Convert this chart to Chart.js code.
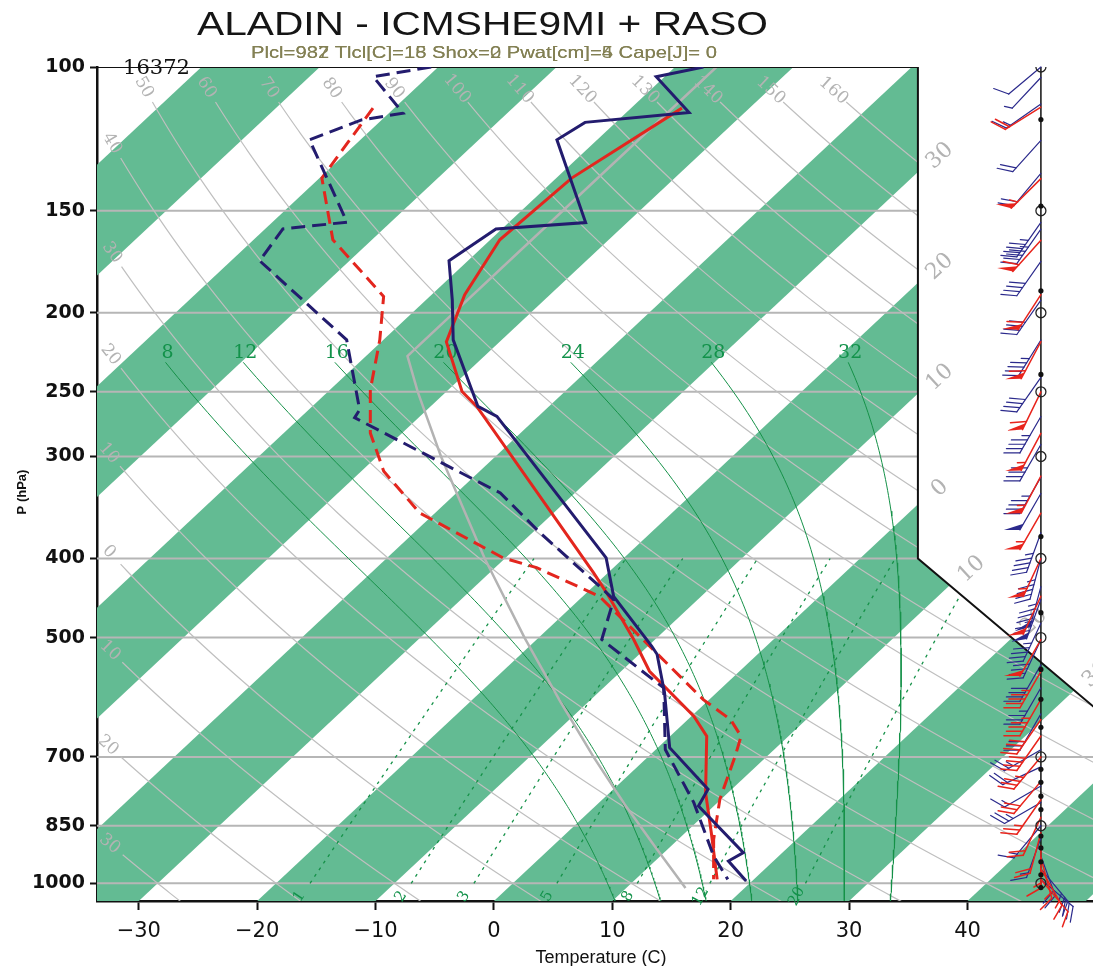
<!DOCTYPE html>
<html>
<head>
<meta charset="utf-8">
<script src="https://cdn.jsdelivr.net/npm/chart.js@4.4.0/dist/chart.umd.min.js"></script>
<style>
  html, body { margin: 0; padding: 0; background: #fff; overflow: hidden; }
  #wrap { width: 1093px; height: 966px; position: relative; }
</style>
</head>
<body>
<div id="wrap"><canvas id="skewt"></canvas></div>
<script>
// axis ticks
const pressureTicks = [100, 150, 200, 250, 300, 400, 500, 700, 850, 1000];
const tempTicks = [-30, -20, -10, 0, 10, 20, 30, 40];

// RASO (sounding) temperature / dewpoint
const rasoP = [100, 102.8, 113.7, 116.9, 122.8, 155.1, 157.9, 172.7, 192.8, 215.9, 260.5, 267.9, 399.3, 445, 512, 524, 584, 682, 767, 804, 917, 939, 993.5];
const rasoT = [-57.6, -60.7, -54.7, -62.6, -63.4, -53.5, -60.5, -61.6, -57.8, -54.1, -46.0, -43.5, -21.5, -17.4, -9.7, -8.5, -4.4, 1.0, 8.0, 8.7, 16.7, 16.2, 19.5];
const rasoTdP = [100, 102.8, 113.9, 116.1, 122.8, 154.9, 157.9, 172.7, 215.9, 262.9, 268.9, 318.5, 332.5, 372.3, 432.6, 449.1, 502.7, 576.2, 685.6, 796.3, 925.9, 988.8];
const rasoTd = [-80.6, -84.6, -78.8, -81.7, -84.3, -73.7, -78.5, -77.6, -63.1, -55.7, -55.4, -40.2, -36.3, -29.3, -19.5, -17.1, -14.5, -4.9, 0.8, 8.0, 14.5, 17.8];

// ALADIN (model) temperature / dewpoint
const aladinP = [112.3, 136.8, 162.8, 190.1, 217.1, 249.7, 260.5, 416.6, 440.7, 502.7, 549.8, 624.1, 660.4, 774.4, 867, 988.8];
const aladinT = [-55.7, -58.7, -59.2, -57.2, -54.5, -48.7, -46.1, -21.2, -18.3, -11.8, -7.6, 0.2, 3.1, 8.1, 12.2, 16.9];
const aladinTdP = [112.3, 136.8, 162.8, 191.0, 215.9, 248.5, 280.7, 312.8, 351.8, 399.3, 410.4, 445, 595.5, 630, 660.4, 698.6, 788.9, 883.5, 988.8];
const aladinTd = [-81.8, -79.8, -73.3, -63.9, -60.3, -56.6, -52.7, -48.1, -41.3, -30.2, -26.5, -18.6, -0.5, 3.6, 6.0, 7.3, 9.9, 13.0, 16.6];

// reference standard atmosphere
const stdP = [1013, 900, 800, 700, 600, 500, 400, 300, 250, 226, 150, 100];
const stdT = [15.0, 8.6, 2.3, -4.6, -12.3, -21.2, -31.7, -44.6, -52.4, -56.5, -56.5, -56.5];

// winds (direction deg, speed kt)
const rasoWindP = [100, 103, 111, 123, 135, 155, 158, 173, 193, 216, 240, 268, 290, 318, 333, 372, 400, 433, 449, 480, 503, 540, 576, 620, 686, 720, 760, 796, 850, 880, 926, 960, 989];
const rasoWindDir = [230, 223, 235, 222, 220, 215, 215, 215, 215, 212, 215, 210, 210, 210, 210, 200, 195, 195, 200, 205, 205, 210, 210, 210, 240, 245, 240, 240, 220, 200, 160, 140, 130];
const rasoWindSpd = [10, 5, 15, 20, 20, 45, 45, 40, 40, 45, 40, 45, 40, 45, 50, 45, 45, 85, 75, 45, 40, 40, 35, 30, 25, 20, 15, 25, 15, 15, 20, 25, 30];
const aladinWindP = [112, 137, 163, 190, 217, 250, 281, 317, 352, 400, 445, 503, 550, 595, 630, 660, 700, 750, 790, 830, 867, 900, 930, 960, 989];
const aladinWindDir = [238, 225, 222, 213, 208, 206, 208, 208, 210, 205, 205, 210, 210, 210, 215, 215, 220, 220, 215, 205, 195, 180, 165, 150, 140];
const aladinWindSpd = [20, 55, 60, 60, 60, 60, 55, 55, 55, 55, 50, 50, 45, 45, 40, 40, 35, 30, 25, 20, 20, 15, 15, 15, 10];

// markers on the wind column
const circleLevels = [100, 150, 200, 250, 300, 400, 500, 700, 850, 1000];
const dotLevels = [116, 148, 188, 238, 376, 466, 547, 595, 644, 725, 752, 782, 812, 875, 905, 941, 976, 1012];

// isopleth families
const bandStarts = [-120, -100, -80, -60, -40, -20, 0, 20, 40];
const dryThetas = [-30, -20, -10, 0, 10, 20, 30, 40, 50, 60, 70, 80, 90, 100, 110, 120, 130, 140, 150, 160];
const moistThetaW = [8, 12, 16, 20, 24, 28, 32];
const mixRatios = [1, 2, 3, 5, 8, 12, 20];
const isoLabelTemps = [-30, -20, -10, 0, 10, 20, 30];

// diagram geometry
const PB = 1051;          // pressure at the bottom edge
const SKEW = 73.7;        // deg C of skew per decade of pressure
const xMin = -33.53, xMax = 50.6;
const edgeX = 35.81;      // right border of the upper diagram
const colX = 46.2;        // wind column

function skewX(t, p) { return t + SKEW * Math.log10(PB / p); }
function profile(ps, ts) { return ps.map((p, i) => ({ x: skewX(ts[i], p), y: p })); }

function esat(tc) { return 6.112 * Math.exp(17.67 * tc / (tc + 243.5)); }
function moistLapse(tk, p) {
    const es = esat(tk - 273.15);
    const rs = 0.622 * es / (p - es);
    const num = (287.04 * tk + 2.501e6 * rs) / p;
    const den = 1005.7 + (2.501e6 * 2.501e6 * rs * 0.622) / (287.04 * tk * tk);
    return num / den;
}
function rk4(t, p, h) {
    const k1 = moistLapse(t, p);
    const k2 = moistLapse(t + h * k1 / 2, p + h / 2);
    const k3 = moistLapse(t + h * k2 / 2, p + h / 2);
    const k4 = moistLapse(t + h * k3, p + h);
    return t + h * (k1 + 2 * k2 + 2 * k3 + k4) / 6;
}

function dryAdiabat(thetaC) {
    const th = thetaC + 273.15, pts = [];
    for (let i = 0; i <= 240; i++) {
        const p = 100 * Math.pow(1070 / 100, i / 240);
        const t = th * Math.pow(p / 1000, 0.2857) - 273.15;
        const x = skewX(t, p);
        if (p < 109.7 || x < -31.6) continue;
        pts.push({ x, y: p });
    }
    return pts;
}
function moistAdiabat(tw) {
    const up = [], down = [];
    let t = tw + 273.15, p = 1000;
    up.push({ p, t });
    while (p > 230) { t = rk4(t, p, -5); p -= 5; up.push({ p, t }); }
    t = tw + 273.15; p = 1000;
    while (p < 1070) { t = rk4(t, p, 5); p += 5; down.push({ p, t }); }
    return up.reverse().concat(down).map(o => ({ x: skewX(o.t - 273.15, o.p), y: o.p }));
}
function mixTd(w, p) {
    const e = w * p / (622 + w);
    const l = Math.log(e / 6.112);
    return 243.5 * l / (17.67 - l);
}
function mixLine(w) {
    const pts = [];
    for (let p = 1000; p >= 400; p -= 20) pts.push({ x: skewX(mixTd(w, p), p), y: p });
    return pts;
}

function lineDs(label, data, color, width, order, extra) {
    return Object.assign({
        type: 'line', label, data, borderColor: color, borderWidth: width,
        pointRadius: 0, fill: false, tension: 0, order
    }, extra || {});
}

const datasets = [];

// green isotherm bands
bandStarts.forEach(t => {
    datasets.push(lineDs('band', [
        { x: skewX(t, 1100), y: 1100 }, { x: skewX(t + 10, 1100), y: 1100 },
        { x: skewX(t + 10, 90), y: 90 }, { x: skewX(t, 90), y: 90 }, { x: skewX(t, 1100), y: 1100 }
    ], 'rgba(0,0,0,0)', 0, 100, { fill: 'shape', backgroundColor: '#63bb93' }));
});

// pressure grid lines
pressureTicks.forEach(p => {
    datasets.push(lineDs('grid', [{ x: xMin, y: p }, { x: xMax, y: p }], '#b6b6b6', 2, 95));
});

const dryLines = dryThetas.map(th => ({ label: String(Math.abs(th)), points: dryAdiabat(th) }));
dryLines.forEach(l => datasets.push(lineDs('dry', l.points, '#bfbfbf', 1.2, 90)));

const moistLines = moistThetaW.map(tw => ({ label: String(tw), points: moistAdiabat(tw) }));
moistLines.forEach(l => datasets.push(lineDs('moist', l.points, '#159148', 1, 89)));

const mixLines = mixRatios.map(w => ({ label: String(w), w, points: mixLine(w) }));
mixLines.forEach(l => datasets.push(lineDs('mix', l.points, '#159148', 1.3, 88, { borderDash: [3, 5] })));

datasets.push(lineDs('std', profile(stdP, stdT), '#b3b3b3', 2.5, 87));

// white area outside the diagram (top right)
datasets.push(lineDs('mask', [
    { x: edgeX, y: 90 }, { x: edgeX, y: 400 }, { x: 55, y: 687 }, { x: 55, y: 90 }, { x: edgeX, y: 90 }
], 'rgba(0,0,0,0)', 0, 80, { fill: 'shape', backgroundColor: '#ffffff' }));

datasets.push(lineDs('frame', [
    { x: xMin, y: 100 }, { x: edgeX, y: 100 }, { x: edgeX, y: 400 }, { x: 55, y: 687 }
], '#111', 2, 79));

// profiles
datasets.push(lineDs('ALADIN Td', profile(aladinTdP, aladinTd), '#e3261e', 3, 6, { borderDash: [13, 7] }));
datasets.push(lineDs('ALADIN T', profile(aladinP, aladinT), '#e3261e', 3, 5));
datasets.push(lineDs('RASO Td', profile(rasoTdP, rasoTd), '#231c6e', 3, 4, { borderDash: [14, 7] }));
datasets.push(lineDs('RASO T', profile(rasoP, rasoT), '#231c6e', 3, 3));

// wind column
datasets.push(lineDs('column', [{ x: colX, y: 100 }, { x: colX, y: 1012 }], '#111', 1.5, 2));
datasets.push({
    type: 'line', label: 'circles', showLine: false, order: 1,
    data: circleLevels.map(p => ({ x: colX, y: p })),
    pointRadius: 5, pointBorderColor: '#222', pointBackgroundColor: 'rgba(0,0,0,0)', pointBorderWidth: 1.3
});
datasets.push({
    type: 'line', label: 'dots', showLine: false, order: 0,
    data: dotLevels.map(p => ({ x: colX, y: p })),
    pointRadius: 2.6, pointBorderWidth: 0, pointBackgroundColor: '#111'
});

// isopleth labels, drawn right after the frame
const isoLabels = {
    id: 'isoLabels',
    afterDatasetDraw(chart, args) {
        if (chart.data.datasets[args.index].label !== 'frame') return;
        const ctx = chart.ctx, xs = chart.scales.x, ys = chart.scales.y;
        const pt = o => ({ x: xs.getPixelForValue(o.x), y: ys.getPixelForValue(o.y) });
        const put = (text, x, y, ang) => {
            ctx.save(); ctx.translate(x, y); ctx.rotate(ang); ctx.fillText(text, 0, 0); ctx.restore();
        };
        ctx.save();
        ctx.textAlign = 'center';
        ctx.textBaseline = 'middle';

        // dry adiabats
        ctx.fillStyle = '#b3b3b3';
        ctx.font = '17px "DejaVu Serif"';
        dryLines.forEach(l => {
            if (l.points.length < 3) return;
            const a = pt(l.points[0]), b = pt(l.points[2]);
            const ang = Math.atan2(b.y - a.y, b.x - a.x);
            put(l.label, a.x - Math.cos(ang) * 17, a.y - Math.sin(ang) * 17, ang);
        });

        // moist adiabats
        ctx.fillStyle = '#12924a';
        ctx.font = '19px "DejaVu Serif"';
        moistLines.forEach(l => {
            const a = pt(l.points[0]);
            put(l.label, a.x + 2, a.y - 9, 0);
        });

        // mixing ratio
        ctx.font = '15px "DejaVu Serif"';
        mixLines.forEach(l => {
            const a = pt({ x: skewX(mixTd(l.w, 1032), 1032), y: 1032 });
            const b = pt({ x: skewX(mixTd(l.w, 900), 900), y: 900 });
            const ang = Math.atan2(b.y - a.y, b.x - a.x);
            put(l.label, a.x - 3, a.y + 2, ang);
        });

        // isotherms along the right border
        ctx.fillStyle = '#b3b3b3';
        ctx.font = '22px "DejaVu Serif"';
        const L400 = Math.log10(400), k = (Math.log10(687) - L400) / (55 - edgeX);
        isoLabelTemps.forEach(t => {
            let X = edgeX, p = PB / Math.pow(10, (edgeX - t) / SKEW);
            if (p > 400) {
                X = (Math.log10(PB) + t / SKEW - L400 + edgeX * k) / (k + 1 / SKEW);
                p = Math.pow(10, L400 + (X - edgeX) * k);
            }
            const a = pt({ x: X, y: p });
            put(String(Math.abs(t)), a.x + 22, a.y - 16, -0.75);
        });
        ctx.restore();
    }
};

// wind barbs
function drawBarb(ctx, x, y, dir, spd, color, lw) {
    const r = dir * Math.PI / 180;
    const ux = Math.sin(r), uy = -Math.cos(r);
    const L = 42, F = 16, gap = 5;
    const phi = Math.atan2(uy, ux) + Math.PI / 3;
    const fx = Math.cos(phi), fy = Math.sin(phi);
    ctx.strokeStyle = color;
    ctx.fillStyle = color;
    ctx.lineWidth = lw;
    ctx.beginPath();
    ctx.moveTo(x, y);
    ctx.lineTo(x + ux * L, y + uy * L);
    ctx.stroke();
    let s = L, rest = Math.round(spd / 5) * 5;
    while (rest >= 50) {
        const bx = x + ux * s, by = y + uy * s;
        ctx.beginPath();
        ctx.moveTo(bx, by);
        ctx.lineTo(bx + fx * F, by + fy * F);
        ctx.lineTo(x + ux * (s - 7), y + uy * (s - 7));
        ctx.closePath();
        ctx.fill();
        s -= 9; rest -= 50;
    }
    while (rest >= 10) {
        const bx = x + ux * s, by = y + uy * s;
        ctx.beginPath(); ctx.moveTo(bx, by); ctx.lineTo(bx + fx * F, by + fy * F); ctx.stroke();
        s -= gap; rest -= 10;
    }
    if (rest >= 5) {
        const bx = x + ux * s, by = y + uy * s;
        ctx.beginPath(); ctx.moveTo(bx, by); ctx.lineTo(bx + fx * F / 2, by + fy * F / 2); ctx.stroke();
    }
}
const barbs = {
    id: 'barbs',
    afterDatasetDraw(chart, args) {
        if (chart.data.datasets[args.index].label !== 'column') return;
        const ctx = chart.ctx, xs = chart.scales.x, ys = chart.scales.y;
        const cx = xs.getPixelForValue(colX);
        ctx.save();
        ctx.lineCap = 'round';
        rasoWindP.forEach((p, i) => drawBarb(ctx, cx, ys.getPixelForValue(p), rasoWindDir[i], rasoWindSpd[i], '#2b2a8c', 1.2));
        aladinWindP.forEach((p, i) => drawBarb(ctx, cx, ys.getPixelForValue(p), aladinWindDir[i], aladinWindSpd[i], '#e8241c', 1.5));
        ctx.restore();
    }
};

// titles and axis names
function fitText(ctx, text, x, y, width) {
    const w = ctx.measureText(text).width;
    ctx.save();
    ctx.translate(x, y);
    ctx.scale(width / w, 1);
    ctx.fillText(text, 0, 0);
    ctx.restore();
}
const textLayer = {
    id: 'textLayer',
    afterDraw(chart) {
        const ctx = chart.ctx;
        ctx.save();
        ctx.textAlign = 'left';
        ctx.textBaseline = 'alphabetic';
        ctx.fillStyle = '#151515';
        ctx.font = '33px "Liberation Sans"';
        fitText(ctx, 'ALADIN - ICMSHE9MI + RASO', 197, 35, 571);
        ctx.fillStyle = '#838054';
        ctx.font = '16.5px "Liberation Sans"';
        fitText(ctx, 'Plcl=982 Tlcl[C]=18 Shox=2 Pwat[cm]=5 Cape[J]= 0', 251, 58, 466);
        fitText(ctx, 'Plcl=937 Tlcl[C]=15 Shox=0 Pwat[cm]=4 Cape[J]= 0', 251, 58, 466);
        ctx.fillStyle = '#111';
        ctx.font = '20px "DejaVu Serif"';
        fitText(ctx, '16372', 123, 74, 67);
        ctx.font = 'bold 13px "Liberation Sans"';
        ctx.textAlign = 'center';
        ctx.save();
        ctx.translate(26, 492);
        ctx.rotate(-Math.PI / 2);
        ctx.fillText('P (hPa)', 0, 0);
        ctx.restore();
        ctx.font = '18px "Liberation Sans"';
        ctx.fillText('Temperature (C)', 601, 963);
        ctx.restore();
    }
};

new Chart(document.getElementById('skewt'), {
    type: 'line',
    data: { datasets },
    options: {
        responsive: true,
        maintainAspectRatio: false,
        animation: false,
        events: [],
        layout: { autoPadding: false, padding: { top: 67, left: 0, right: 0, bottom: 0 } },
        plugins: { legend: { display: false }, tooltip: { enabled: false } },
        scales: {
            x: {
                type: 'linear', min: xMin, max: xMax,
                afterBuildTicks: s => { s.ticks = tempTicks.map(v => ({ value: v })); },
                afterFit: s => { s.height = 65; },
                grid: { drawOnChartArea: false, tickLength: 9, tickColor: '#111', tickWidth: 2 },
                border: { color: '#111', width: 2.5 },
                ticks: {
                    font: { family: 'DejaVu Sans', size: 21 }, color: '#111', padding: 9,
                    maxRotation: 0, autoSkip: false,
                    callback: v => (v < 0 ? '\u2212' + Math.abs(v) : String(v))
                }
            },
            y: {
                type: 'logarithmic', reverse: true, min: 100, max: PB,
                afterBuildTicks: s => { s.ticks = pressureTicks.map(v => ({ value: v })); },
                afterFit: s => { s.width = 97; },
                grid: { drawOnChartArea: false, tickLength: 7, tickColor: '#111', tickWidth: 2 },
                border: { color: '#111', width: 2.5 },
                ticks: {
                    font: { family: 'DejaVu Sans', size: 19, weight: 'bold' }, color: '#111', padding: 5,
                    autoSkip: false, callback: v => String(v)
                }
            }
        }
    },
    plugins: [isoLabels, barbs, textLayer]
});
</script>
</body>
</html>
